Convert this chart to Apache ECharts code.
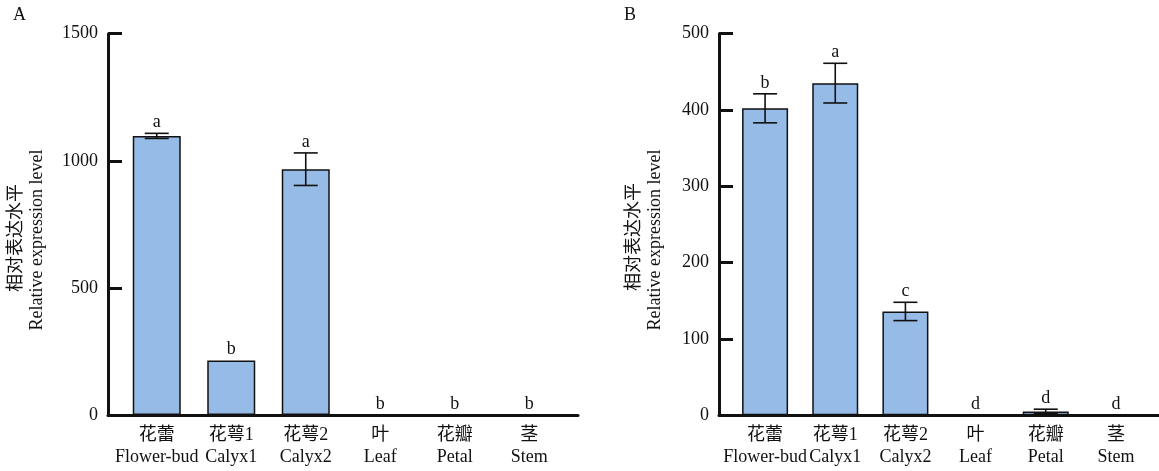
<!DOCTYPE html>
<html>
<head>
<meta charset="utf-8">
<script src="https://cdn.jsdelivr.net/npm/echarts@6/dist/echarts.min.js"></script>
<style>
  html, body { margin: 0; padding: 0; background: #fff; }
  #chart { width: 1159px; height: 471px; }
</style>
</head>
<body>
<div id="chart"></div>
<script>
// categories
const namesZh = ['花蕾', '花萼1', '花萼2', '叶', '花瓣', '茎'];
const namesEn = ['Flower-bud', 'Calyx1', 'Calyx2', 'Leaf', 'Petal', 'Stem'];

// panel A
const valuesA = [1098, 214, 967, 0, 0, 0];
const errorsA = [10, 0, 64, 0, 0, 0];
const lettersA = ['a', 'b', 'a', 'b', 'b', 'b'];
const yMaxA = 1500;
const yStepA = 500;

// panel B
const valuesB = [402, 435, 136, 0, 5, 0];
const errorsB = [19, 26, 12, 0, 3, 0];
const lettersB = ['b', 'a', 'c', 'd', 'd', 'd'];
const yMaxB = 500;
const yStepB = 100;

const FONT = '"Liberation Serif", "Noto Sans CJK SC", serif';
const BAR_COLOR = '#96bbe6';
const INK = '#111';

function catAxis(grid) {
  return {
    type: 'category',
    gridIndex: grid,
    data: namesZh.map((z, i) => z + '\n' + namesEn[i]),
    boundaryGap: true,
    axisLine: { show: false },
    axisTick: { show: false },
    axisLabel: {
      interval: 0,
      color: INK, fontFamily: FONT, fontSize: 18, lineHeight: 22, margin: 9
    }
  };
}

function lineAxis(grid) {
  return {
    type: 'value',
    gridIndex: grid,
    min: 0,
    max: 1,
    axisLine: { show: true, onZero: false, lineStyle: { color: INK, width: 3 } },
    axisTick: { show: false },
    axisLabel: { show: false },
    splitLine: { show: false }
  };
}

function valAxis(grid, max, step, offset) {
  return {
    type: 'value',
    gridIndex: grid,
    min: 0,
    max: max,
    interval: step,
    offset: offset,
    axisLine: { show: true, lineStyle: { color: INK, width: 3 } },
    axisTick: { show: true, inside: true, length: 14, lineStyle: { color: INK, width: 3 } },
    axisLabel: {
      color: INK, fontFamily: FONT, fontSize: 18, margin: 10,
      formatter: v => String(v)
    },
    splitLine: { show: false }
  };
}

function hiddenY(grid) {
  return { type: 'value', gridIndex: grid, show: false, min: 0, max: 1 };
}

function barSeries(axis, values, width) {
  return {
    type: 'bar',
    xAxisIndex: axis,
    yAxisIndex: axis,
    data: values,
    barWidth: width,
    itemStyle: { color: BAR_COLOR, borderColor: INK, borderWidth: 1.5 },
    z: 2
  };
}

function errSeries(axis, values, errors, letters) {
  return {
    type: 'custom',
    xAxisIndex: axis,
    yAxisIndex: axis,
    z: 5,
    data: values.map((v, i) => [i, v, errors[i]]),
    renderItem: function (params, api) {
      const i = api.value(0);
      const v = api.value(1);
      const e = api.value(2);
      const top = api.coord([i, v + e]);
      const bot = api.coord([i, v - e]);
      const x = top[0];
      const half = 12;
      const children = [];
      if (e > 0) {
        const ls = { stroke: INK, lineWidth: 1.6 };
        children.push({ type: 'line', shape: { x1: x, y1: top[1], x2: x, y2: bot[1] }, style: ls });
        children.push({ type: 'line', shape: { x1: x - half, y1: top[1], x2: x + half, y2: top[1] }, style: ls });
        children.push({ type: 'line', shape: { x1: x - half, y1: bot[1], x2: x + half, y2: bot[1] }, style: ls });
      }
      children.push({
        type: 'text',
        style: {
          x: x, y: top[1] - 2, text: letters[i],
          align: 'center', verticalAlign: 'bottom',
          fill: INK, font: '18px ' + FONT
        }
      });
      return { type: 'group', children: children };
    }
  };
}

function yTitle(x, y, text) {
  return {
    type: 'text',
    x: x, y: y,
    rotation: Math.PI / 2,
    style: { text: text, align: 'center', verticalAlign: 'middle', fill: INK, font: '18px ' + FONT }
  };
}

const chart = echarts.init(document.getElementById('chart'));
chart.setOption({
  backgroundColor: '#fff',
  animation: false,
  grid: [
    { left: 119.5, width: 447, top: 33.7, bottom: 56 },
    { left: 108, width: 470, top: 33.7, bottom: 56 },
    { left: 730, width: 421, top: 33.5, bottom: 55.7 },
    { left: 719, width: 445, top: 33.5, bottom: 55.7 }
  ],
  xAxis: [catAxis(0), lineAxis(1), catAxis(2), lineAxis(3)],
  yAxis: [valAxis(0, yMaxA, yStepA, 11.5), hiddenY(1), valAxis(2, yMaxB, yStepB, 11), hiddenY(3)],
  series: [
    barSeries(0, valuesA, 48),
    errSeries(0, valuesA, errorsA, lettersA),
    barSeries(2, valuesB, 46),
    errSeries(2, valuesB, errorsB, lettersB)
  ],
  graphic: [
    { type: 'text', left: 13, top: 6, style: { text: 'A', fill: INK, font: '18px ' + FONT } },
    { type: 'text', left: 624, top: 6, style: { text: 'B', fill: INK, font: '18px ' + FONT } },
    yTitle(16, 238, '相对表达水平'),
    yTitle(37, 240, 'Relative expression level'),
    yTitle(634, 237, '相对表达水平'),
    yTitle(655, 240, 'Relative expression level')
  ]
});
</script>
</body>
</html>
